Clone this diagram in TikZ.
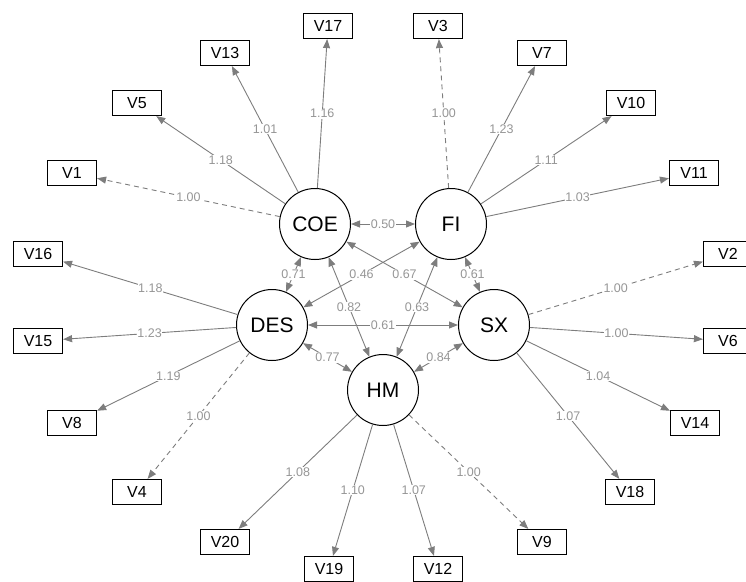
\documentclass[tikz,border=0pt]{standalone}
\usepackage{fontspec}
\setmainfont{Liberation Sans}
\usetikzlibrary{arrows.meta}
\definecolor{edgegray}{RGB}{125,125,125}
\definecolor{labgray}{RGB}{150,150,150}
\begin{document}
\begin{tikzpicture}[x=1pt,y=-1pt,
 latent/.style={circle,draw=black,line width=1pt,fill=white,minimum size=71pt,inner sep=0pt,font=\fontsize{21}{21}\selectfont},
 manifest/.style={rectangle,draw=black,line width=1.2pt,fill=white,minimum width=49pt,minimum height=25pt,inner sep=0pt,font=\fontsize{16}{16}\selectfont},
 load/.style={draw=edgegray,line width=0.9pt,-{Triangle[length=9pt,width=7pt]}},
 cov/.style={draw=edgegray,line width=0.9pt,{Triangle[length=9pt,width=7pt]}-{Triangle[length=9pt,width=7pt]}},
 fixed/.style={dash pattern=on 5pt off 4pt},
 lab/.style={fill=white,inner sep=0.6pt,text=labgray,font=\fontsize{12.5}{12.5}\selectfont}]
\useasboundingbox (0,0) rectangle (746,581);
% latent variables
\node[latent] (COE) at (315,224) {COE};
\node[latent] (FI)  at (451,224) {FI};
\node[latent] (DES) at (272,325) {DES};
\node[latent] (SX)  at (494,325) {SX};
\node[latent] (HM)  at (383,390) {HM};
% manifest variables
\node[manifest] (V17) at (328,26) {V17};
\node[manifest] (V13) at (225,53) {V13};
\node[manifest] (V5)  at (137,103) {V5};
\node[manifest] (V1)  at (72,173) {V1};
\node[manifest] (V16) at (38,254) {V16};
\node[manifest] (V15) at (38,341) {V15};
\node[manifest] (V8)  at (72,423) {V8};
\node[manifest] (V4)  at (137,492) {V4};
\node[manifest] (V20) at (225,542) {V20};
\node[manifest] (V19) at (329,569) {V19};
\node[manifest] (V12) at (438,569) {V12};
\node[manifest] (V9)  at (542,542) {V9};
\node[manifest] (V18) at (630,492) {V18};
\node[manifest] (V14) at (695,423) {V14};
\node[manifest] (V6)  at (728,341) {V6};
\node[manifest] (V2)  at (728,254) {V2};
\node[manifest] (V11) at (694,173) {V11};
\node[manifest] (V10) at (631,103) {V10};
\node[manifest] (V7)  at (542,53) {V7};
\node[manifest] (V3)  at (438,26) {V3};
% loadings
\draw[load,fixed] (COE) -- node[lab]{1.00} (V1);
\draw[load] (COE) -- node[lab]{1.18} (V5);
\draw[load] (COE) -- node[lab]{1.01} (V13);
\draw[load] (COE) -- node[lab]{1.16} (V17);
\draw[load,fixed] (FI) -- node[lab]{1.00} (V3);
\draw[load] (FI) -- node[lab]{1.23} (V7);
\draw[load] (FI) -- node[lab]{1.11} (V10);
\draw[load] (FI) -- node[lab]{1.03} (V11);
\draw[load] (DES) -- node[lab]{1.18} (V16);
\draw[load] (DES) -- node[lab]{1.23} (V15);
\draw[load] (DES) -- node[lab]{1.19} (V8);
\draw[load,fixed] (DES) -- node[lab]{1.00} (V4);
\draw[load,fixed] (SX) -- node[lab]{1.00} (V2);
\draw[load] (SX) -- node[lab]{1.00} (V6);
\draw[load] (SX) -- node[lab]{1.04} (V14);
\draw[load] (SX) -- node[lab]{1.07} (V18);
\draw[load] (HM) -- node[lab]{1.08} (V20);
\draw[load] (HM) -- node[lab]{1.10} (V19);
\draw[load] (HM) -- node[lab]{1.07} (V12);
\draw[load,fixed] (HM) -- node[lab]{1.00} (V9);
% covariances
\draw[cov] (COE) -- node[lab]{0.50} (FI);
\draw[cov] (COE) -- node[lab]{0.71} (DES);
\draw[cov] (FI) -- node[lab]{0.46} (DES);
\draw[cov] (COE) -- node[lab]{0.67} (SX);
\draw[cov] (FI) -- node[lab]{0.61} (SX);
\draw[cov] (COE) -- node[lab]{0.82} (HM);
\draw[cov] (FI) -- node[lab]{0.63} (HM);
\draw[cov] (DES) -- node[lab]{0.61} (SX);
\draw[cov] (DES) -- node[lab]{0.77} (HM);
\draw[cov] (HM) -- node[lab]{0.84} (SX);
\end{tikzpicture}
\end{document}
